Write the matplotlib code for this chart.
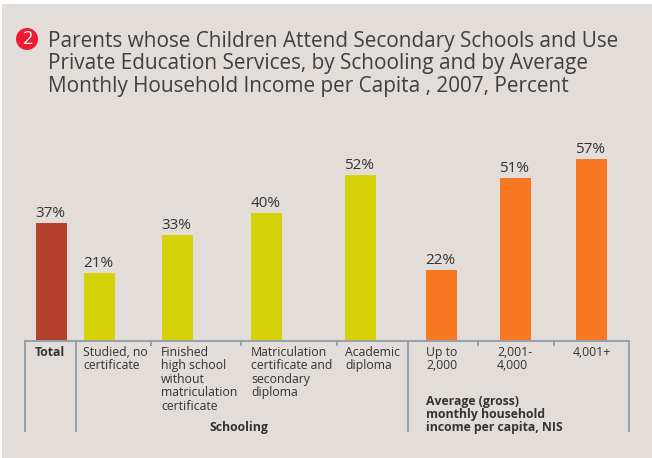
import matplotlib
matplotlib.use('Agg')
import matplotlib.pyplot as plt
from matplotlib.patches import Circle, Rectangle

# survey results, percent
categories = ['Total', 'Studied, no\ncertificate',
              'Finished\nhigh school\nwithout\nmatriculation\ncertificate',
              'Matriculation\ncertificate and\nsecondary\ndiploma',
              'Academic\ndiploma', 'Up to\n2,000', '2,001-\n4,000', '4,001+']
values = [37, 21, 33, 40, 52, 22, 51, 57]
group_labels = ['Schooling', 'Average (gross)\nmonthly household\nincome per capita, NIS']
title = ('Parents whose Children Attend Secondary Schools and Use\n'
         'Private Education Services, by Schooling and by Average\n'
         'Monthly Household Income per Capita , 2007, Percent')

W, H = 652, 458
BG = '#e2ddd8'
TEXT = '#333333'
RULE = '#93a0ab'

bar_left = [36, 84, 162, 251, 345, 426, 500, 576]
bar_colors = ['#b5402c', '#d6d20a', '#d6d20a', '#d6d20a', '#d6d20a',
              '#f87722', '#f87722', '#f87722']
label_x = [50, 83, 161, 251, 345, 426, 497, 573]

plt.rcParams['font.family'] = ['Open Sans', 'DejaVu Sans']

fig = plt.figure(figsize=(W / 100, H / 100), dpi=100, facecolor='white')

# page in pixel coordinates, y pointing down
page = fig.add_axes([0, 0, 1, 1])
page.set_xlim(0, W)
page.set_ylim(H, 0)
page.axis('off')
page.add_patch(Rectangle((2, 4), W - 2, H - 4, fc=BG, ec='none'))

# bars: y in percent, 3.17 px per percent above the baseline at y=340
base = 340
top = 140
ax = fig.add_axes([0, 1 - base / H, 1, (base - top) / H])
ax.set_xlim(0, W)
ax.set_ylim(0, (base - top) / 3.17)
ax.axis('off')
ax.patch.set_alpha(0)
ax.bar(bar_left, values, width=31, align='edge', color=bar_colors)
for x, v in zip(bar_left, values):
    ax.annotate(f'{v}%', (x + 14.5, v), xytext=(0, 1.5), textcoords='offset points',
                ha='center', va='bottom', fontsize=11, color=TEXT)

# title with numbered badge
page.add_patch(Circle((27, 39), 11, fc='#ee1c2e', ec='none'))
page.text(27, 39.5, '2', color='white', fontsize=13, ha='center', va='center')
page.text(48, 31, title, fontsize=14.95, color='#3f3f3f', va='top', linespacing=1.09)

# table rules below the bars
page.plot([25, 629], [340.5, 340.5], color=RULE, lw=1.4, solid_capstyle='butt')
for x, y_end in [(25, 432), (75.5, 432), (150.5, 346), (241, 346), (336.5, 346),
                 (408, 432), (478, 346), (554, 346), (629, 432)]:
    page.plot([x, x], [340, y_end], color=RULE, lw=1.4, solid_capstyle='butt')

for i, (x, lab) in enumerate(zip(label_x, categories)):
    if i == 0:
        page.text(x, 346, lab, fontsize=8.8, fontweight='bold', color=TEXT, ha='center', va='top')
    else:
        page.text(x, 346, lab, fontsize=8.8, color=TEXT, va='top', linespacing=1.04)

page.text(239, 420.5, group_labels[0], fontsize=8.8, fontweight='bold', color=TEXT,
          ha='center', va='top')
page.text(426, 394.5, group_labels[1], fontsize=8.8, fontweight='bold', color=TEXT,
          va='top', linespacing=1.03)

fig.savefig('out.png', dpi=100)
